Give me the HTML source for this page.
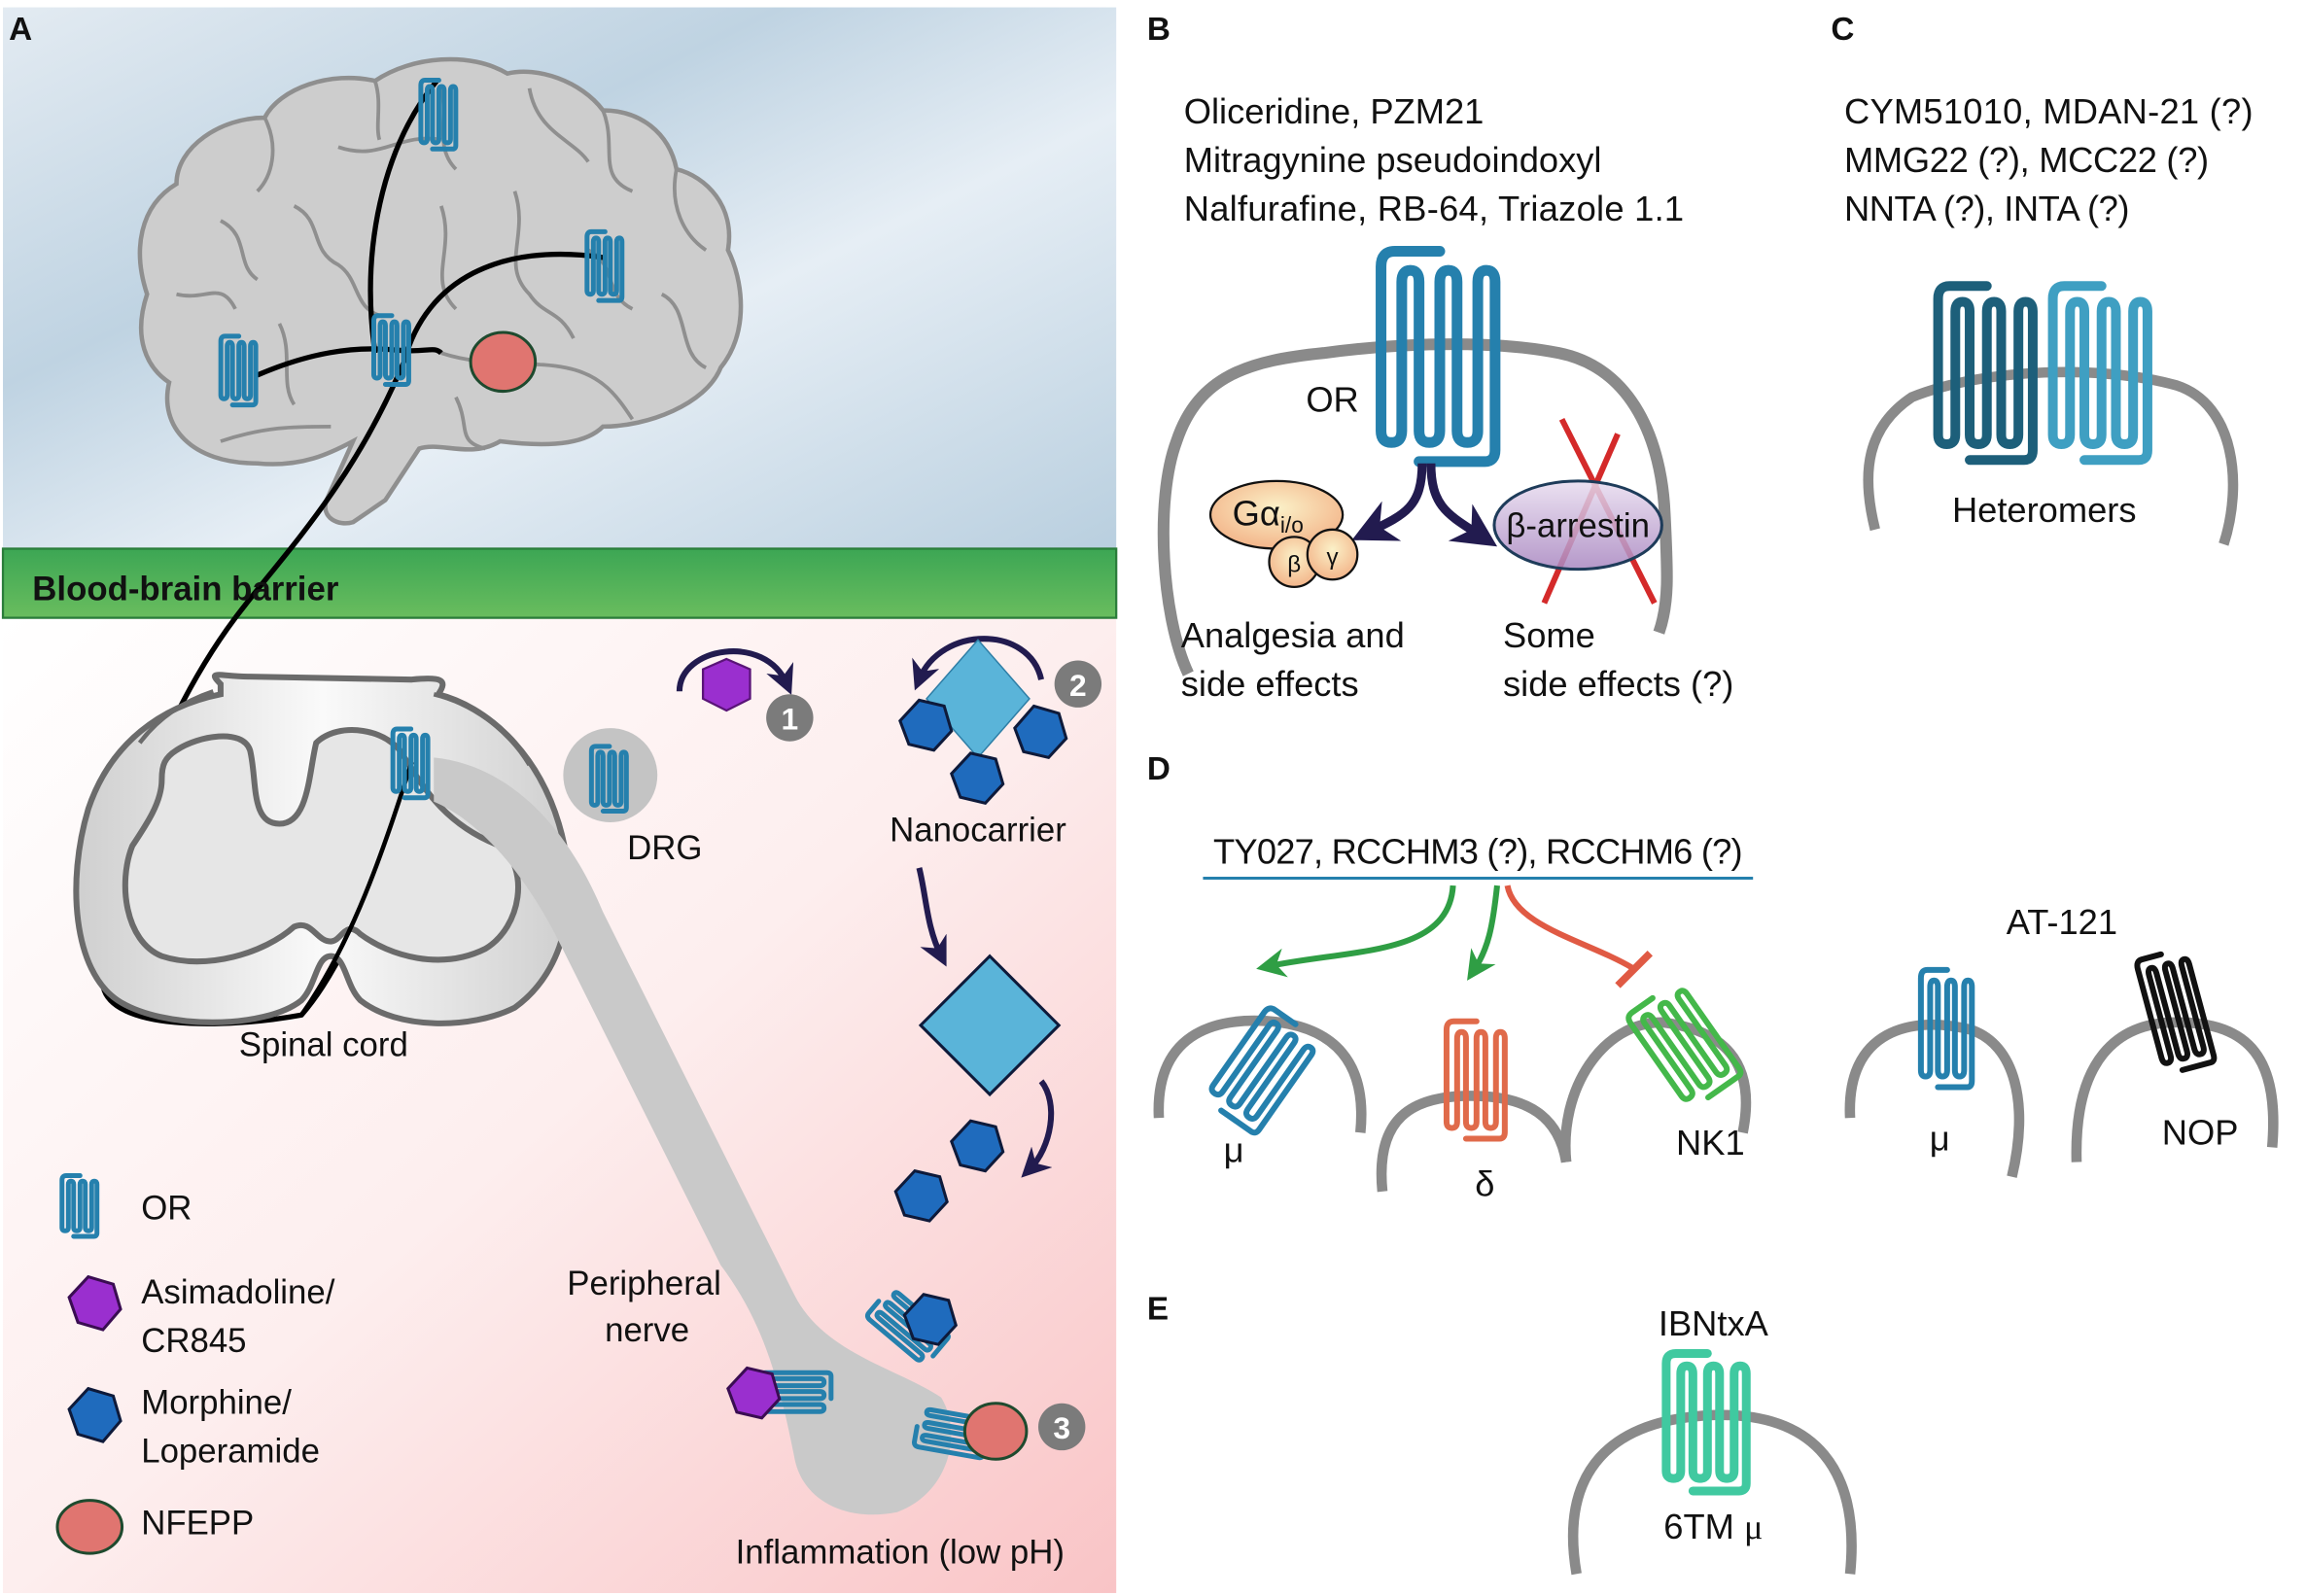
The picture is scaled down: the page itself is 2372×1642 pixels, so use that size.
<!DOCTYPE html>
<html><head><meta charset="utf-8"><style>
html,body{margin:0;padding:0;background:#fff}
svg{display:block}
text{font-family:"Liberation Sans",sans-serif;fill:#111}
</style></head><body>
<svg width="2372" height="1642" viewBox="0 0 1568 1085" preserveAspectRatio="none" xmlns="http://www.w3.org/2000/svg">
<defs>
<linearGradient id="sky" x1="0" y1="0" x2="1" y2="1">
<stop offset="0" stop-color="#e3ebf2"/><stop offset="0.35" stop-color="#bfd3e2"/><stop offset="0.6" stop-color="#e6eef5"/><stop offset="1" stop-color="#b9cfdf"/></linearGradient>
<linearGradient id="bbb" x1="0" y1="0" x2="0" y2="1"><stop offset="0" stop-color="#3ca654"/><stop offset="1" stop-color="#69bd5e"/></linearGradient>
<linearGradient id="pink" x1="0" y1="0" x2="1" y2="1"><stop offset="0" stop-color="#ffffff"/><stop offset="0.5" stop-color="#fdeeee"/><stop offset="1" stop-color="#f9c4c6"/></linearGradient>
<linearGradient id="cord" x1="0" y1="0" x2="1" y2="0"><stop offset="0" stop-color="#cfcfcf"/><stop offset="0.5" stop-color="#fafafa"/><stop offset="1" stop-color="#cfcfcf"/></linearGradient>
<radialGradient id="gorange" cx="0.5" cy="0.4" r="0.6"><stop offset="0" stop-color="#fbf1c8"/><stop offset="1" stop-color="#f3b58a"/></radialGradient>
<linearGradient id="arr" x1="0" y1="0" x2="0" y2="1"><stop offset="0" stop-color="#e8dcef"/><stop offset="1" stop-color="#a886c0"/></linearGradient>
<symbol id="r" overflow="visible">
<path fill="none" vector-effect="non-scaling-stroke" stroke-linejoin="round" stroke-linecap="round" d="M20,3 H7 Q3,3 3,7 V50 Q3,53 6,53 Q9,53 9,50 V11 Q9,8 11.5,8 Q14,8 14,11 V50 Q14,53 17,53 Q20,53 20,50 V11 Q20,8 22.5,8 Q25,8 25,11 V50 Q25,53 28,53 Q31,53 31,50 V11 Q31,8 33.5,8 Q36,8 36,11 V55 Q36,58 33,58 H14"/>
</symbol>
<marker id="ah" viewBox="0 0 10 10" refX="6" refY="5" markerWidth="5" markerHeight="5" orient="auto"><path d="M0,0 L10,5 L0,10 L3,5 Z" fill="#221b4f"/></marker>
<marker id="ag" viewBox="0 0 10 10" refX="6" refY="5" markerWidth="5" markerHeight="5" orient="auto"><path d="M0,0 L10,5 L0,10 L3,5 Z" fill="#2f9e44"/></marker>
</defs>

<rect x="2" y="5" width="757" height="368" fill="url(#sky)"/>
<rect x="2" y="420" width="757" height="663" fill="url(#pink)"/>
<rect x="2" y="373" width="757" height="47" fill="url(#bbb)" stroke="#2a7d3a" stroke-width="1.5"/>
<text x="6" y="27" font-size="22" font-weight="bold">A</text>

<!-- Brain -->
<path d="M240,300 L222,340 C218,352 230,358 240,355 L262,340 L285,305 C300,300 320,312 340,300 C380,305 400,300 410,290 C440,290 480,275 490,250 C510,225 505,190 495,170 C500,140 480,120 460,115 C455,90 435,75 410,75 C395,55 365,45 345,50 C320,35 280,38 255,55 C225,48 190,60 180,80 C150,80 120,100 120,125 C95,140 90,170 100,200 C90,230 100,250 115,260 C108,290 130,315 175,315 C205,318 225,308 240,300 Z" fill="#cdcdcd" stroke="#8f8f8f" stroke-width="3"/>
<g fill="none" stroke="#8f8f8f" stroke-width="2.5">
<path d="M180,80 C190,100 185,120 175,130 M255,55 C260,70 255,85 258,95 M230,100 C260,110 270,90 300,95 M300,60 C305,80 295,100 310,115 M360,60 C365,90 390,95 400,110 M410,75 C420,100 405,120 430,130 M460,115 C455,140 465,160 480,170 M150,150 C170,160 160,180 175,190 M120,200 C140,205 150,190 160,210 M200,140 C220,150 210,170 230,180 C245,190 240,210 260,215 M300,140 C310,170 290,190 310,210 M350,130 C360,160 340,180 360,200 C370,215 380,210 390,230 M400,170 C420,180 410,200 430,210 M190,220 C200,240 190,260 200,275 M150,300 C180,290 200,290 225,290 M300,240 C330,250 360,245 385,250 C410,255 420,270 430,285 M450,200 C470,210 460,240 480,250 M310,270 C320,290 310,300 330,305"/>
</g>
<ellipse cx="342" cy="246" rx="22" ry="20" fill="#e07570" stroke="#1e4a2e" stroke-width="2"/>
<g fill="none" stroke="#000" stroke-width="3.5">
<path d="M297,55 C260,100 245,170 255,240"/>
<path d="M175,255 C210,240 240,235 270,238 C290,240 295,235 300,240"/>
<path d="M410,175 C340,165 290,190 275,245 C240,330 190,380 160,420"/>
<path d="M160,420 C100,500 65,620 70,670 C75,700 150,700 205,690 C240,650 260,580 290,515"/>
</g>
<text x="22" y="408" font-size="23" font-weight="bold">Blood-brain barrier</text>
<g stroke="#2580ad" stroke-width="5">
<use href="#r" transform="translate(284,52) scale(0.72,0.85)"/>
<use href="#r" transform="translate(397,155) scale(0.72,0.85)"/>
<use href="#r" transform="translate(252,212) scale(0.72,0.85)"/>
<use href="#r" transform="translate(148,226) scale(0.72,0.85)"/>
</g>

<!-- Spinal cord -->
<path d="M150,465 C140,455 150,460 170,460 L280,462 C300,460 305,462 298,472 C330,480 365,510 380,560 C395,610 385,660 350,685 C320,700 270,700 245,680 C235,670 235,650 225,650 C215,650 215,670 205,680 C180,700 110,700 80,680 C50,660 45,600 60,550 C75,505 110,480 150,472 Z" fill="url(#cord)" stroke="#6b6b6b" stroke-width="4"/>
<path d="M145,470 C130,475 110,485 95,505 M295,472 C320,478 345,495 360,520" fill="none" stroke="#6b6b6b" stroke-width="3"/>
<path d="M120,510 C135,500 165,495 170,510 C175,530 170,560 190,560 C210,560 210,525 215,505 C230,490 265,495 275,515 C285,530 300,560 340,575 C360,590 355,630 330,645 C300,660 265,650 245,635 C235,625 232,640 225,640 C215,640 212,625 200,630 C180,648 140,660 110,650 C85,640 80,600 90,575 C100,560 110,545 110,530 C110,520 112,515 120,510 Z" fill="#e6e6e6" stroke="#6b6b6b" stroke-width="4"/>
<path d="M280,518 C260,580 240,640 205,690" fill="none" stroke="#000" stroke-width="3"/>
<!-- Peripheral nerve over cord -->
<path d="M295,515 C345,520 385,560 410,620 C450,700 500,800 540,880 C560,920 610,930 640,950 C655,975 645,1015 610,1028 C575,1035 545,1020 540,990 C530,940 520,900 490,860 C450,780 410,700 380,640 C360,600 330,560 295,545 Z" fill="#c9c9c9"/>
<g stroke="#2580ad" stroke-width="5"><use href="#r" transform="translate(265,493) scale(0.72,0.85)"/></g>
<text x="220" y="718" font-size="23" text-anchor="middle">Spinal cord</text>
<circle cx="415" cy="527" r="32" fill="#c4c4c4"/>
<g stroke="#2580ad" stroke-width="5"><use href="#r" transform="translate(400,505) scale(0.72,0.8)"/></g>
<text x="452" y="584" font-size="23" text-anchor="middle">DRG</text>

<path d="M462,470 C462,440 520,430 535,465" fill="none" stroke="#221b4f" stroke-width="4" marker-end="url(#ah)"/>
<polygon points="494,448 510,455 510,475 494,483 478,475 478,455" fill="#9a2fcf" stroke="#5a1478" stroke-width="1.5"/>
<circle cx="537" cy="488" r="16" fill="#7b7b7b"/><text x="537" y="496" font-size="21" font-weight="bold" text-anchor="middle" style="fill:#fff">1</text>
<path d="M708,462 C700,425 640,425 625,462" fill="none" stroke="#221b4f" stroke-width="4" marker-end="url(#ah)"/>
<polygon points="665,435 700,475 665,515 630,475" fill="#5ab4d9" stroke="#2e7ea6" stroke-width="1"/>
<g fill="#1f6bbd" stroke="#0e1a3a" stroke-width="2">
<polygon points="625,476 642,480 647,497 635,510 618,506 612,490"/>
<polygon points="703,480 720,485 725,502 713,515 696,511 690,495"/>
<polygon points="660,512 677,516 682,533 670,546 653,542 647,526"/>
</g>
<circle cx="733" cy="465" r="16" fill="#7b7b7b"/><text x="733" y="473" font-size="21" font-weight="bold" text-anchor="middle" style="fill:#fff">2</text>
<text x="665" y="572" font-size="23" text-anchor="middle">Nanocarrier</text>
<path d="M625,590 C630,610 630,630 640,650" fill="none" stroke="#221b4f" stroke-width="4" marker-end="url(#ah)"/>
<polygon points="673,650 720,697 673,744 626,697" fill="#5ab4d9" stroke="#0e1a3a" stroke-width="2"/>
<path d="M708,735 C720,750 715,780 700,795" fill="none" stroke="#221b4f" stroke-width="4" marker-end="url(#ah)"/>
<g fill="#1f6bbd" stroke="#0e1a3a" stroke-width="2">
<polygon points="660,762 677,766 682,783 670,796 653,792 647,776"/>
<polygon points="622,796 639,800 644,817 632,830 615,826 609,810"/>
</g>
<text x="438" y="880" font-size="23" text-anchor="middle">Peripheral</text>
<text x="440" y="912" font-size="23" text-anchor="middle">nerve</text>
<g stroke="#2580ad" stroke-width="5">
<use href="#r" transform="translate(510,962) rotate(-90) scale(0.8,0.95)"/>
<use href="#r" transform="translate(585,895) rotate(-50) scale(0.8,0.95)"/>
<use href="#r" transform="translate(618,985) rotate(-80) scale(0.8,0.95)"/>
</g>
<polygon points="508,930 525,934 530,951 518,964 501,960 495,944" fill="#9a2fcf" stroke="#3a0d52" stroke-width="2"/>
<polygon points="628,880 645,884 650,901 638,914 621,910 615,894" fill="#1f6bbd" stroke="#0e1a3a" stroke-width="2"/>
<ellipse cx="677" cy="973" rx="21" ry="19" fill="#e07570" stroke="#1e4a2e" stroke-width="2"/>
<circle cx="722" cy="970" r="16" fill="#7b7b7b"/><text x="722" y="978" font-size="21" font-weight="bold" text-anchor="middle" style="fill:#fff">3</text>
<text x="612" y="1063" font-size="23" text-anchor="middle">Inflammation (low pH)</text>
<g stroke="#2580ad" stroke-width="5"><use href="#r" transform="translate(40,797) scale(0.72,0.75)"/></g>
<text x="96" y="829" font-size="23">OR</text>
<polygon points="60,868 77,873 82,890 70,904 53,899 47,882" fill="#9a2fcf" stroke="#3a0d52" stroke-width="2"/>
<text x="96" y="886" font-size="23">Asimadoline/</text><text x="96" y="919" font-size="23">CR845</text>
<polygon points="60,944 77,949 82,966 70,980 53,975 47,958" fill="#1f6bbd" stroke="#0e1a3a" stroke-width="2"/>
<text x="96" y="961" font-size="23">Morphine/</text><text x="96" y="994" font-size="23">Loperamide</text>
<ellipse cx="61" cy="1038" rx="22" ry="18" fill="#e07570" stroke="#1e4a2e" stroke-width="2"/>
<text x="96" y="1043" font-size="23">NFEPP</text>

<!-- Panel B -->
<text x="780" y="27" font-size="22" font-weight="bold">B</text>
<text x="805" y="84" font-size="24">Oliceridine, PZM21</text>
<text x="805" y="117" font-size="24">Mitragynine pseudoindoxyl</text>
<text x="805" y="150" font-size="24" textLength="340">Nalfurafine, RB-64, Triazole 1.1</text>
<path d="M808,458 C790,420 785,340 800,300 C815,255 850,245 900,240 C960,232 1020,232 1060,240 C1110,250 1130,300 1132,350 C1134,390 1135,410 1128,430" fill="none" stroke="#8a8a8a" stroke-width="8"/>
<g stroke="#2580ad" stroke-width="11"><use href="#r" transform="translate(932,163) scale(2.35,2.6)"/></g>
<text x="906" y="280" font-size="24" text-anchor="middle">OR</text>
<path d="M967,315 C967,345 955,350 930,362" fill="none" stroke="#221b4f" stroke-width="6" marker-end="url(#ah)"/>
<path d="M973,315 C973,345 985,350 1008,365" fill="none" stroke="#221b4f" stroke-width="6" marker-end="url(#ah)"/>
<ellipse cx="868" cy="350" rx="45" ry="23" fill="url(#gorange)" stroke="#111" stroke-width="1.5"/>
<text x="838" y="357" font-size="24">Gα<tspan font-size="15" dy="5">i/o</tspan></text>
<circle cx="880" cy="382" r="17" fill="url(#gorange)" stroke="#111" stroke-width="1.5"/>
<circle cx="906" cy="377" r="17" fill="url(#gorange)" stroke="#111" stroke-width="1.5"/>
<text x="880" y="389" font-size="16" text-anchor="middle">β</text><text x="906" y="384" font-size="16" text-anchor="middle">γ</text>
<line x1="1062" y1="285" x2="1125" y2="410" stroke="#d42a2a" stroke-width="4"/>
<line x1="1100" y1="295" x2="1050" y2="410" stroke="#d42a2a" stroke-width="4"/>
<ellipse cx="1073" cy="357" rx="57" ry="30" fill="url(#arr)" fill-opacity="0.85" stroke="#1e3c5a" stroke-width="2"/>
<text x="1073" y="365" font-size="23" text-anchor="middle">β-arrestin</text>
<text x="803" y="440" font-size="24">Analgesia and</text><text x="803" y="473" font-size="24">side effects</text>
<text x="1022" y="440" font-size="24">Some</text><text x="1022" y="473" font-size="24">side effects (?)</text>

<!-- Panel C -->
<text x="1245" y="27" font-size="22" font-weight="bold">C</text>
<text x="1254" y="84" font-size="24" textLength="278">CYM51010, MDAN-21 (?)</text>
<text x="1254" y="117" font-size="24" textLength="248">MMG22 (?), MCC22 (?)</text>
<text x="1254" y="150" font-size="24" textLength="194">NNTA (?), INTA (?)</text>
<path d="M1275,360 C1265,320 1270,290 1300,270 C1350,250 1430,248 1480,262 C1520,275 1525,330 1512,370" fill="none" stroke="#8a8a8a" stroke-width="7"/>
<g stroke="#1d5f7a" stroke-width="10"><use href="#r" transform="translate(1312,188) scale(1.95,2.15)"/></g>
<g stroke="#3f9fc2" stroke-width="10"><use href="#r" transform="translate(1390,188) scale(1.95,2.15)"/></g>
<text x="1390" y="355" font-size="24" text-anchor="middle">Heteromers</text>

<!-- Panel D -->
<text x="780" y="530" font-size="22" font-weight="bold">D</text>
<text x="1005" y="587" font-size="24" text-anchor="middle" textLength="360">TY027, RCCHM3 (?), RCCHM6 (?)</text>
<line x1="818" y1="597" x2="1192" y2="597" stroke="#2580ad" stroke-width="2"/>
<path d="M988,602 C985,650 920,645 862,657" fill="none" stroke="#2f9e44" stroke-width="4" marker-end="url(#ag)"/>
<path d="M1018,602 C1015,630 1012,645 1002,660" fill="none" stroke="#2f9e44" stroke-width="4" marker-end="url(#ag)"/>
<path d="M1025,602 C1030,630 1080,640 1110,658" fill="none" stroke="#e05a44" stroke-width="4"/>
<line x1="1100" y1="670" x2="1122" y2="648" stroke="#e05a44" stroke-width="5"/>
<g fill="none" stroke="#8a8a8a" stroke-width="7">
<path d="M788,760 C785,700 830,690 870,695 C905,700 930,720 925,770"/>
<path d="M940,810 C935,760 960,745 1000,745 C1040,745 1060,760 1065,790"/>
<path d="M1065,790 C1060,740 1090,695 1130,695 C1170,700 1195,720 1185,770"/>
<path d="M1258,760 C1255,700 1300,690 1340,700 C1370,710 1380,750 1368,800"/>
<path d="M1412,790 C1410,720 1440,695 1480,695 C1530,695 1550,720 1545,780"/>
</g>
<g stroke="#2580ad" stroke-width="6"><use href="#r" transform="translate(862,678) rotate(35) scale(1.3,1.4)"/></g>
<g stroke="#e06a4a" stroke-width="6"><use href="#r" transform="translate(980,690) scale(1.2,1.45)"/></g>
<g stroke="#44b84a" stroke-width="6"><use href="#r" transform="translate(1100,690) rotate(-35) scale(1.3,1.4)"/></g>
<g stroke="#2580ad" stroke-width="6"><use href="#r" transform="translate(1303,655) scale(1.05,1.45)"/></g>
<g stroke="#111" stroke-width="6"><use href="#r" transform="translate(1448,650) rotate(-15) scale(1.05,1.45)"/></g>
<text x="832" y="790" font-size="24" font-family="Liberation Serif">μ</text>
<text x="1003" y="813" font-size="24" font-family="Liberation Serif">δ</text>
<text x="1163" y="785" font-size="24" text-anchor="middle">NK1</text>
<text x="1402" y="635" font-size="24" text-anchor="middle">AT-121</text>
<text x="1312" y="782" font-size="24" font-family="Liberation Serif">μ</text>
<text x="1496" y="778" font-size="24" text-anchor="middle">NOP</text>

<!-- Panel E -->
<text x="780" y="897" font-size="22" font-weight="bold">E</text>
<text x="1165" y="908" font-size="24" text-anchor="middle">IBNtxA</text>
<path d="M1072,1070 C1060,1000 1095,965 1165,962 C1235,960 1265,1000 1258,1070" fill="none" stroke="#8a8a8a" stroke-width="7"/>
<g stroke="#40c9a0" stroke-width="9"><use href="#r" transform="translate(1128,915) scale(1.65,1.7)"/></g>
<text x="1165" y="1046" font-size="24" text-anchor="middle">6TM <tspan font-family="Liberation Serif">μ</tspan></text>
</svg>
</body></html>
